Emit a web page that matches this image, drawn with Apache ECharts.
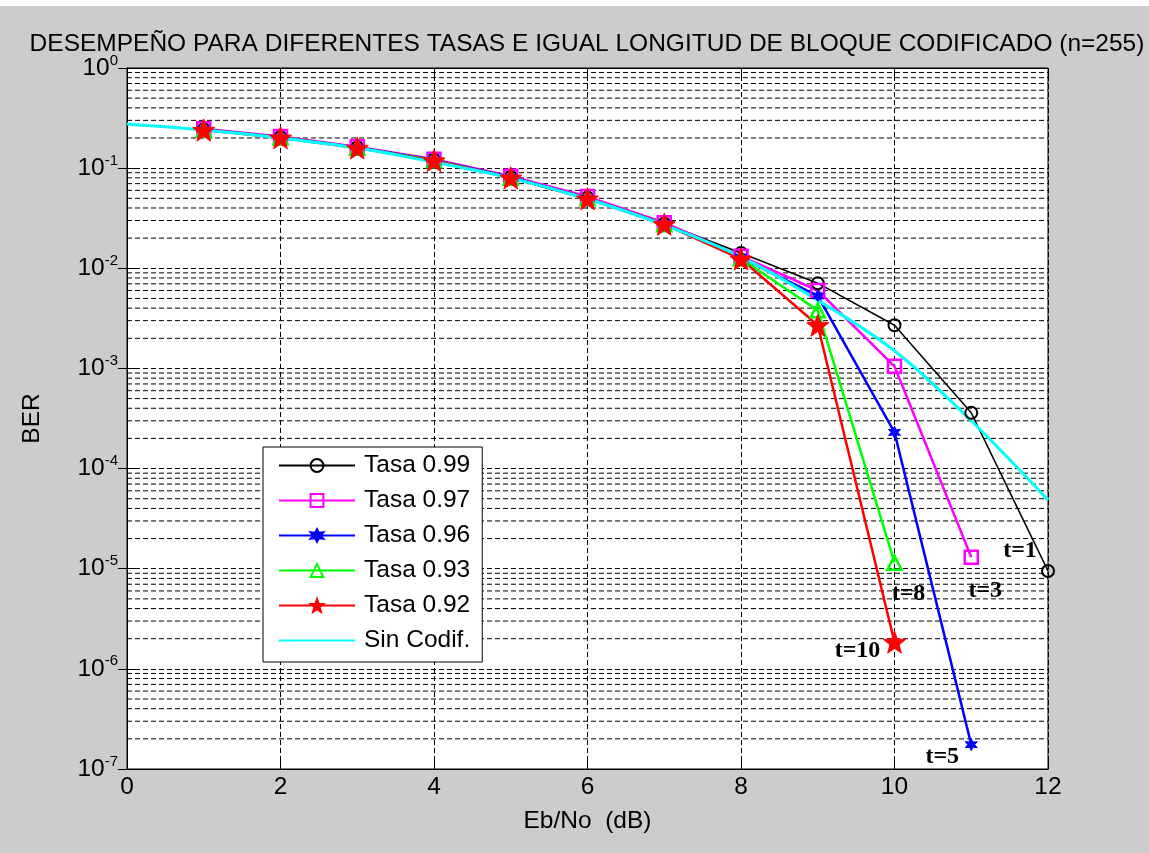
<!DOCTYPE html>
<html>
<head>
<meta charset="utf-8">
<script src="https://cdn.jsdelivr.net/npm/echarts@6/dist/echarts.min.js"></script>
<style>
  html, body { margin: 0; padding: 0; background: #cccccc; }
  #chart { width: 1149px; height: 853px; }
</style>
</head>
<body>
<div id="chart"></div>
<script>
// Eb/No (dB) sample points
const ebnoCoded = [1, 2, 3, 4, 5, 6, 7, 8, 9, 10, 11, 12];
const ebnoUncoded = [0, 1, 2, 3, 4, 5, 6, 7, 8, 9, 10, 11, 12];

// BER for each code rate (n = 255)
const berTasa099 = [0.245, 0.205, 0.162, 0.122, 0.082, 0.051, 0.028, 0.0142, 7.1e-3, 2.7e-3, 3.6e-4, 9.5e-6];
const berTasa097 = [0.247, 0.207, 0.164, 0.123, 0.083, 0.052, 0.0285, 0.0132, 6.0e-3, 1.05e-3, 1.3e-5];
const berTasa096 = [0.243, 0.203, 0.161, 0.121, 0.081, 0.050, 0.0278, 0.0128, 5.3e-3, 2.3e-4, 1.75e-7];
const berTasa093 = [0.242, 0.202, 0.160, 0.120, 0.080, 0.050, 0.0276, 0.0125, 3.8e-3, 1.15e-5];
const berTasa092 = [0.240, 0.201, 0.159, 0.119, 0.080, 0.0495, 0.0275, 0.0124, 2.7e-3, 1.85e-6];
const berSinCodif = [0.276, 0.240, 0.200, 0.159, 0.115, 0.0797, 0.0492, 0.0270, 0.0130, 0.0048, 1.5e-3, 3.0e-4, 4.85e-5];

const seriesNames = ['Tasa 0.99', 'Tasa 0.97', 'Tasa 0.96', 'Tasa 0.93', 'Tasa 0.92', 'Sin Codif.'];
// error-correcting capability shown next to the last point of each coded curve
const tLabels = ['t=1', 't=3', 't=5', 't=8', 't=10'];

// star-shaped symbol paths
function starPath(points, inner) {
  const pts = [];
  for (let i = 0; i < points * 2; i++) {
    const r = i % 2 === 0 ? 1 : inner;
    const a = -Math.PI / 2 + i * Math.PI / points;
    pts.push((r * Math.cos(a)).toFixed(3) + ' ' + (r * Math.sin(a)).toFixed(3));
  }
  return 'path://M' + pts.join(' L') + ' Z';
}
const pentagram = starPath(5, 0.42);
const asterisk = starPath(6, 0.5);

const FONT = 'Liberation Sans';
const axisFont = { fontFamily: FONT, fontSize: 24.5, color: '#000' };
const labelFont = { fontFamily: 'Liberation Serif', fontWeight: 'bold', fontSize: 24, color: '#000' };

function pairs(xs, ys, labelText, labelOffset) {
  return ys.map((v, i) => {
    if (labelText && i === ys.length - 1) {
      return {
        value: [xs[i], v],
        label: Object.assign({ show: true, formatter: labelText, position: 'inside', offset: labelOffset }, labelFont)
      };
    }
    return [xs[i], v];
  });
}

// dotted log-scale minor grid (2..9 x 10^k), one horizontal rule per value
const minorGridSeries = [];
for (let k = -7; k < 0; k++) {
  for (let m = 2; m <= 9; m++) {
    const v = m * Math.pow(10, k);
    minorGridSeries.push({
      type: 'line', silent: true, z: 1, symbol: 'none', animation: false,
      data: [[0, v], [12, v]],
      lineStyle: { color: '#000', type: [5, 3], width: 1 },
      tooltip: { show: false }
    });
  }
}

const chart = echarts.init(document.getElementById('chart'), null, { renderer: 'canvas' });

chart.setOption({
  animation: false,
  backgroundColor: '#cccccc',
  graphic: [
    { type: 'rect', left: 0, top: 0, shape: { width: 1149, height: 6 }, style: { fill: '#ffffff' }, silent: true }
  ],
  title: {
    text: 'DESEMPEÑO PARA DIFERENTES TASAS E IGUAL LONGITUD DE BLOQUE CODIFICADO (n=255)',
    left: 587,
    top: 32,
    textAlign: 'center',
    padding: 0,
    textStyle: { fontFamily: FONT, fontWeight: 'normal', fontSize: 24.5, color: '#000' }
  },
  grid: {
    left: 127, right: 101, top: 68, bottom: 84,
    show: true, backgroundColor: '#ffffff', borderColor: '#000', borderWidth: 1
  },
  legend: {
    orient: 'vertical',
    left: 263,
    top: 447,
    padding: [6, 12, 9, 15],
    backgroundColor: '#ffffff',
    borderColor: '#000',
    borderWidth: 1,
    borderRadius: 0,
    itemWidth: 76,
    itemHeight: 16,
    itemGap: 10,
    textStyle: Object.assign({ lineHeight: 25, padding: [0, 0, 0, 4] }, axisFont),
    data: seriesNames.slice(0, 5).concat([{
      name: seriesNames[5],
      itemStyle: { color: 'rgba(0,0,0,0)', borderColor: 'rgba(0,0,0,0)', borderWidth: 0 }
    }])
  },
  xAxis: [{
    type: 'value', min: 0, max: 12, interval: 2,
    name: 'Eb/No  (dB)', nameLocation: 'middle', nameGap: 40,
    nameTextStyle: axisFont,
    axisLine: { lineStyle: { color: '#000', width: 1 } },
    axisTick: { inside: true, length: 9, lineStyle: { color: '#000' } },
    axisLabel: Object.assign({ margin: 6 }, axisFont),
    splitLine: { show: true, lineStyle: { color: '#000', type: [5, 3], width: 1 } }
  }, {
    type: 'value', min: 0, max: 12, interval: 2, position: 'top',
    axisLine: { show: true, lineStyle: { color: '#000' } },
    axisTick: { inside: true, length: 9, lineStyle: { color: '#000' } },
    axisLabel: { show: false },
    splitLine: { show: false }
  }],
  yAxis: [{
    type: 'log', logBase: 10, min: 1e-7, max: 1, splitNumber: 7,
    name: 'BER', nameLocation: 'middle', nameGap: 82, nameRotate: 90,
    nameTextStyle: axisFont,
    axisLine: { show: true, lineStyle: { color: '#000', width: 1 } },
    axisTick: { show: true, inside: true, length: 9, lineStyle: { color: '#000' } },
    axisLabel: {
      margin: 9,
      formatter: v => '{b|10}{s|' + Math.round(Math.log10(v)) + '}',
      rich: {
        b: { fontFamily: FONT, fontSize: 24.5, color: '#000' },
        s: { fontFamily: FONT, fontSize: 15, color: '#000', verticalAlign: 'top', padding: [0, 0, 15, 0] }
      }
    },
    splitLine: { show: true, lineStyle: { color: '#000', type: [5, 3], width: 1 } }
  }, {
    type: 'log', logBase: 10, min: 1e-7, max: 1, splitNumber: 7, position: 'right',
    axisLine: { show: true, lineStyle: { color: '#000' } },
    axisTick: { show: true, inside: true, length: 9, lineStyle: { color: '#000' } },
    axisLabel: { show: false },
    splitLine: { show: false }
  }],
  series: minorGridSeries.concat([
    {
      name: seriesNames[0], type: 'line', z: 2,
      data: pairs(ebnoCoded, berTasa099, tLabels[0], [-28, -20]),
      color: '#000000',
      lineStyle: { width: 1.5, color: '#000000' },
      symbol: 'circle', symbolSize: 12,
      itemStyle: { color: 'rgba(255,255,255,0)', borderColor: '#000000', borderWidth: 2 }
    },
    {
      name: seriesNames[1], type: 'line', z: 2,
      data: pairs(ebnoCoded.slice(0, berTasa097.length), berTasa097, tLabels[1], [14, 33]),
      color: '#ff00ff',
      lineStyle: { width: 2.5, color: '#ff00ff' },
      symbol: 'rect', symbolSize: 13,
      itemStyle: { color: 'rgba(255,255,255,0)', borderColor: '#ff00ff', borderWidth: 2.5 }
    },
    {
      name: seriesNames[2], type: 'line', z: 2,
      data: pairs(ebnoCoded.slice(0, berTasa096.length), berTasa096, tLabels[2], [-29, 12]),
      color: '#0000ff',
      lineStyle: { width: 2.5, color: '#0000ff' },
      symbol: asterisk, symbolSize: 12,
      itemStyle: { color: '#0000ff', borderColor: '#0000ff', borderWidth: 1 }
    },
    {
      name: seriesNames[3], type: 'line', z: 2,
      data: pairs(ebnoCoded.slice(0, berTasa093.length), berTasa093, tLabels[3], [14, 31]),
      color: '#00ff00',
      lineStyle: { width: 2.5, color: '#00ff00' },
      symbol: 'triangle', symbolSize: 14,
      itemStyle: { color: 'rgba(255,255,255,0)', borderColor: '#00ff00', borderWidth: 2.5 }
    },
    {
      name: seriesNames[4], type: 'line', z: 2,
      data: pairs(ebnoCoded.slice(0, berTasa092.length), berTasa092, tLabels[4], [-37, 9]),
      color: '#ff0000',
      lineStyle: { width: 2.5, color: '#ff0000' },
      symbol: pentagram, symbolSize: 22,
      itemStyle: { color: '#ff0000', borderColor: '#ff0000', borderWidth: 1 }
    },
    {
      name: seriesNames[5], type: 'line', z: 2,
      data: pairs(ebnoUncoded, berSinCodif),
      color: '#00ffff',
      lineStyle: { width: 3, color: '#00ffff' },
      symbol: 'none',
      smooth: 0.35
    }
  ])
});
</script>
</body>
</html>
